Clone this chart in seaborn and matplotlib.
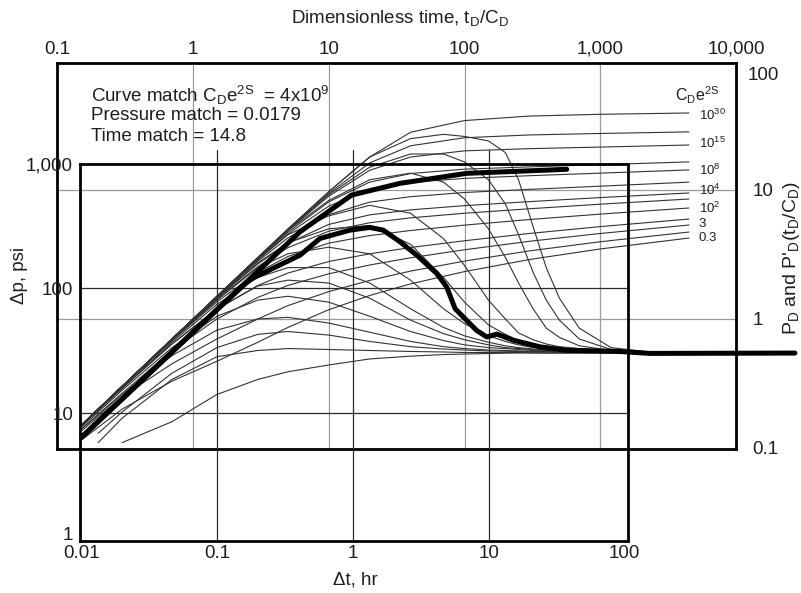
import numpy as np
import pandas as pd
import matplotlib
matplotlib.use("Agg")
import matplotlib.pyplot as plt
import matplotlib.ticker as mticker
import matplotlib.transforms as mtrans
import seaborn as sns

nan = np.nan
# ---------------- data ----------------
# C_D e^2S values of the type curves
cde2s = ["1e30", "1e20", "1e15", "1e10", "1e8", "1e6", "1e4", "1e3", "1e2", "10", "3", "1", "0.3"]

# dimensionless time (t_D/C_D) where the pressure curves were read
tau_p = [0.15, 0.3, 0.7, 1.5, 3, 5, 10, 20, 40, 100, 300, 1000, 4500]
# dimensionless pressure P_D
pd_1e30 = [0.15, 0.3, 0.7, 1.5, 2.99, 4.95, 9.7, 18.0, 28.0, 34.5, 37.4, 38.6, 39.5]
pd_1e20 = [0.15, 0.3, 0.7, 1.5, 2.98, 4.9, 9.4, 16.2, 22.0, 25.4, 26.7, 27.4, 28.2]
pd_1e15 = [0.15, 0.3, 0.7, 1.49, 2.96, 4.85, 8.95, 14.2, 18.0, 20.1, 20.9, 21.5, 22.3]
pd_1e10 = [0.15, 0.3, 0.7, 1.49, 2.92, 4.7, 8.1, 11.5, 13.4, 14.5, 15.1, 15.7, 16.5]
pd_1e8 = [0.15, 0.3, 0.7, 1.48, 2.89, 4.56, 7.5, 10.1, 11.45, 12.3, 12.9, 13.5, 14.3]
pd_1e6 = [0.15, 0.3, 0.7, 1.47, 2.8, 4.25, 6.43, 8.05, 8.87, 9.56, 10.1, 10.7, 11.5]
pd_1e4 = [0.15, 0.3, 0.69, 1.45, 2.67, 3.86, 5.41, 6.41, 7.01, 7.56, 8.12, 8.73, 9.48]
pd_1e3 = [0.15, 0.3, 0.69, 1.42, 2.55, 3.57, 4.79, 5.57, 6.08, 6.6, 7.15, 7.76, 8.51]
pd_1e2 = [0.15, 0.3, 0.68, 1.36, 2.3, 3.05, 3.87, 4.43, 4.85, 5.34, 5.9, 6.5, 7.25]
pd_10 = [0.147, 0.29, 0.64, 1.19, 1.82, 2.27, 2.79, 3.2, 3.58, 4.04, 4.6, 5.2, 5.95]
pd_3 = [0.14, 0.265, 0.57, 1.0, 1.47, 1.82, 2.24, 2.62, 2.98, 3.44, 4.0, 4.6, 5.35]
pd_1 = [0.135, 0.25, 0.45, 0.7, 1.0, 1.27, 1.63, 1.99, 2.35, 2.81, 3.37, 3.97, 4.72]
pd_03 = [0.115, 0.2, 0.33, 0.47, 0.66, 0.86, 1.18, 1.52, 1.87, 2.33, 2.89, 3.49, 4.24]

# dimensionless time where the derivative curves were read
tau_d = [0.15, 0.2, 0.3, 0.7, 1.5, 3, 5, 10, 20, 40, 70, 100, 150, 200, 250, 320, 400, 500, 700, 1200, 2500, 4500]
# pressure derivative P'_D (t_D/C_D)
dd_1e30 = [0.15, 0.2, 0.3, 0.7, 1.5, 3, 5, 9.7, 18, 25, 27, 26, 24, 19.5, 12, 5.2, 2.5, 1.45, 0.85, 0.6, 0.55, 0.545]
dd_1e20 = [0.15, 0.2, 0.3, 0.7, 1.5, 2.98, 4.9, 9.2, 15, 19, 19, 16.5, 12, 7.8, 4.5, 2.3, 1.4, 0.98, 0.7, 0.58, 0.55, 0.545]
dd_1e15 = [0.15, 0.2, 0.3, 0.7, 1.49, 2.95, 4.85, 8.3, 12, 13.5, 11.5, 8.5, 5.0, 3.0, 1.9, 1.2, 0.85, 0.72, 0.62, 0.57, 0.55, 0.545]
dd_1e10 = [0.15, 0.2, 0.3, 0.7, 1.48, 2.87, 4.5, 6.3, 7.6, 6.6, 4.2, 2.6, 1.4, 1.0, 0.78, 0.69, 0.64, 0.61, 0.59, 0.56, 0.55, 0.545]
dd_1e8 = [0.15, 0.2, 0.3, 0.69, 1.45, 2.72, 3.9, 5.0, 5.3, 3.8, 2.1, 1.35, 0.9, 0.76, 0.68, 0.64, 0.61, 0.59, 0.575, 0.56, 0.55, 0.545]
dd_1e6 = [0.15, 0.2, 0.3, 0.68, 1.4, 2.5, 3.2, 3.6, 3.2, 2.0, 1.2, 0.92, 0.74, 0.67, 0.63, 0.6, 0.59, 0.575, 0.565, 0.555, 0.55, 0.545]
dd_1e4 = [0.15, 0.2, 0.29, 0.66, 1.3, 2.1, 2.5, 2.5, 1.9, 1.2, 0.86, 0.74, 0.66, 0.62, 0.6, 0.585, 0.575, 0.567, 0.56, 0.55, 0.545, 0.545]
dd_1e3 = [0.15, 0.2, 0.29, 0.64, 1.2, 1.8, 2.0, 1.9, 1.45, 0.98, 0.77, 0.69, 0.63, 0.6, 0.59, 0.578, 0.57, 0.565, 0.56, 0.55, 0.545, 0.545]
dd_1e2 = [0.145, 0.19, 0.28, 0.6, 1.05, 1.4, 1.5, 1.35, 1.05, 0.8, 0.68, 0.63, 0.6, 0.59, 0.58, 0.57, 0.565, 0.56, 0.555, 0.55, 0.545, 0.545]
dd_10 = [0.14, 0.18, 0.26, 0.52, 0.82, 1.0, 1.03, 0.93, 0.79, 0.67, 0.61, 0.59, 0.575, 0.57, 0.565, 0.562, 0.56, 0.557, 0.555, 0.55, 0.545, 0.545]
dd_3 = [nan, 0.13, 0.19, 0.38, 0.6, 0.76, 0.8, 0.75, 0.67, 0.61, 0.585, 0.575, 0.565, 0.562, 0.56, 0.557, 0.555, 0.552, 0.55, 0.55, 0.545, 0.545]
dd_1 = [nan, 0.11, 0.17, 0.34, 0.51, 0.57, 0.59, 0.58, 0.57, 0.56, 0.555, 0.55, 0.55, 0.55, 0.55, 0.547, 0.545, 0.545, 0.545, 0.545, 0.545, 0.545]
dd_03 = [nan, nan, 0.11, 0.16, 0.26, 0.34, 0.39, 0.44, 0.49, 0.515, 0.53, 0.535, 0.54, 0.543, 0.545, 0.545, 0.545, 0.545, 0.545, 0.545, 0.545, 0.545]

# curve labels shown at the right end
label_texts = ["10$^{30}$", "10$^{15}$", "10$^{8}$", "10$^{4}$", "10$^{2}$", "3", "0.3"]
label_levels = [38.1, 23.1, 14.3, 9.95, 7.2, 5.45, 4.24]

# field data: pressure change and derivative (psi) vs elapsed time (hr)
dt_p = [0.01, 0.1, 0.407, 0.977, 2.22, 6.88, 37.6]
dp_p = [6.4, 68, 285, 562, 698, 840, 905]
dt_d = [0.01, 0.1, 0.174, 0.407, 0.571, 0.951, 1.33, 1.67, 2.22, 2.95, 4.14, 4.90,
        5.65, 6.50, 8.16, 9.67, 11.5, 15.2, 23.9, 37.6, 87.8, 155, 1807]
dp_d = [6.4, 68, 118, 185, 252, 294, 309, 294, 237, 185, 132, 103,
        69, 59, 46, 40.8, 43, 38.4, 34, 31.9, 31.3, 30.1, 30.3]

# axis ticks
top_ticks = [0.1, 1, 10, 100, 1000, 10000]
top_labels = ["0.1", "1", "10", "100", "1,000", "10,000"]
right_ticks = [0.1, 1, 10]
right_labels = ["0.1", "1", "10"]
bottom_ticks = [0.01, 0.1, 1, 10, 100]
bottom_labels = ["0.01", "0.1", "1", "10", "100"]
left_ticks = [1, 10, 100, 1000]
left_labels = ["1", "10", "100", "1,000"]

# ---------------- build tables ----------------
pd_lists = [pd_1e30, pd_1e20, pd_1e15, pd_1e10, pd_1e8, pd_1e6, pd_1e4, pd_1e3, pd_1e2, pd_10, pd_3, pd_1, pd_03]
dd_lists = [dd_1e30, dd_1e20, dd_1e15, dd_1e10, dd_1e8, dd_1e6, dd_1e4, dd_1e3, dd_1e2, dd_10, dd_3, dd_1, dd_03]
rows = []
for name, pvals, dvals in zip(cde2s, pd_lists, dd_lists):
    for t, p in zip(tau_p, pvals):
        rows.append({"tau": t, "val": p, "curve": "P_" + name})
    for t, d in zip(tau_d, dvals):
        rows.append({"tau": t, "val": d, "curve": "D_" + name})
type_df = pd.DataFrame(rows).dropna()
press_df = pd.DataFrame({"dt": dt_p, "dp": dp_p})
deriv_df = pd.DataFrame({"dt": dt_d, "dp": dp_d})

# ---------------- figure ----------------
sns.set_theme(style="white")
plt.rcParams["font.family"] = ["Liberation Sans", "DejaVu Sans"]
plt.rcParams["mathtext.fontset"] = "custom"
plt.rcParams["mathtext.rm"] = "Liberation Sans"
plt.rcParams["mathtext.it"] = "Liberation Sans"
plt.rcParams["mathtext.default"] = "regular"

W, H = 801, 593
fig = plt.figure(figsize=(W / 100, H / 100), dpi=100)
fig.patch.set_facecolor("white")


def px_axes(l, t, r, b, **kw):
    return fig.add_axes([l / W, 1 - b / H, (r - l) / W, (b - t) / H], **kw)


FS = 13.5
TXT = "#1e1e1e"
# ---- outer (type curve) axes ----
ax_o = px_axes(57.3, 63.3, 736.0, 449.3)
ax_o.set_xscale("log")
ax_o.set_yscale("log")
ax_o.set_xlim(0.1, 10000)
ax_o.set_ylim(0.0977, 95.9)
ax_o.set_facecolor("white")

for v in [1, 10, 100, 1000]:
    ax_o.axvline(v, color="#9a9a9a", lw=0.9, zorder=0)
for v in [1, 10]:
    ax_o.axhline(v, color="#9a9a9a", lw=0.9, zorder=0)

sns.lineplot(data=type_df, x="tau", y="val", units="curve", estimator=None,
             color="#333333", lw=0.8, ax=ax_o, legend=False, sort=False)
ax_o.set_xlabel("")
ax_o.set_ylabel("")

ax_o.xaxis.tick_top()
ax_o.yaxis.tick_right()
ax_o.set_xticks(top_ticks)
ax_o.set_xticklabels(top_labels)
ax_o.set_yticks(right_ticks)
ax_o.set_yticklabels(right_labels)
ax_o.xaxis.set_minor_locator(mticker.NullLocator())
ax_o.yaxis.set_minor_locator(mticker.NullLocator())
ax_o.tick_params(axis="x", which="both", length=0, pad=4, labelsize=FS, colors=TXT)
ax_o.tick_params(axis="y", which="both", length=0, pad=12, labelsize=FS, colors=TXT)
for lbl in ax_o.get_yticklabels():
    lbl.set_horizontalalignment("left")
ax_o.text(1 + 12 / 678.7, (449.3 - 75) / 386.0, "100", transform=ax_o.transAxes,
          ha="left", va="center", fontsize=FS, color=TXT)
for s in ax_o.spines.values():
    s.set_color("black")
    s.set_linewidth(2.0)

# curve labels
for txt, lev in zip(label_texts, label_levels):
    ax_o.text(5300, lev, txt, ha="left", va="center", fontsize=9.5, color=TXT)

# ---- inner (field data) axes ----
ax_i = px_axes(80.0, 163.9, 627.7, 541.0)
ax_i.set_xscale("log")
ax_i.set_yscale("log")
ax_i.set_xlim(0.00973, 105.8)
ax_i.set_ylim(0.939, 1000)
ax_i.patch.set_alpha(0)

for v in [0.1, 1, 10]:
    ax_i.plot([v, v], [0.939, 1293], color="#2a2a2a", lw=0.9, clip_on=False, zorder=1)
for v in [10, 100]:
    ax_i.axhline(v, color="#2a2a2a", lw=0.9, zorder=1)

sns.lineplot(data=press_df, x="dt", y="dp", estimator=None, sort=False, color="black",
             lw=3.6, ax=ax_i, clip_on=False, zorder=5)
sns.lineplot(data=deriv_df, x="dt", y="dp", estimator=None, sort=False, color="black",
             lw=3.6, ax=ax_i, clip_on=False, zorder=5)
ax_i.set_xlabel("")
ax_i.set_ylabel("")
ax_i.set_xticks(bottom_ticks)
ax_i.set_xticklabels(bottom_labels)
ax_i.set_yticks(left_ticks)
ax_i.set_yticklabels(left_labels)
ax_i.xaxis.set_minor_locator(mticker.NullLocator())
ax_i.yaxis.set_minor_locator(mticker.NullLocator())
ax_i.tick_params(axis="x", which="both", length=0, pad=3, labelsize=FS, colors=TXT)
ax_i.tick_params(axis="y", which="both", length=0, pad=5, labelsize=FS, colors=TXT)
ylabs = ax_i.get_yticklabels()
ylabs[0].set_transform(ylabs[0].get_transform() + mtrans.ScaledTranslation(0, 4 / 100, fig.dpi_scale_trans))
for s in ax_i.spines.values():
    s.set_color("black")
    s.set_linewidth(2.0)


def ftxt(x, y, s, **kw):
    fig.text(x / W, 1 - y / H, s, **kw)


ftxt(400, 18, "Dimensionless time, t$_{D}$/C$_{D}$", ha="center", va="center", fontsize=FS, color=TXT)
ftxt(91, 95, "Curve match C$_{D}$e$^{2S}$  = 4x10$^{9}$", ha="left", va="center", fontsize=FS, color=TXT)
ftxt(91, 116, "Pressure match = 0.0179", ha="left", va="center", fontsize=FS, color=TXT)
ftxt(91, 137, "Time match = 14.8", ha="left", va="center", fontsize=FS, color=TXT)
ftxt(697, 95, "C$_{D}$e$^{2S}$", ha="center", va="center", fontsize=11.5, color=TXT)
ftxt(355, 580, "Δt, hr", ha="center", va="center", fontsize=FS, color=TXT)
ftxt(20, 275, "Δp, psi", ha="center", va="center", rotation=90, fontsize=FS, color=TXT)
ftxt(791, 258, "P$_{D}$ and P'$_{D}$(t$_{D}$/C$_{D}$)", ha="center", va="center", rotation=90,
     fontsize=14, color=TXT)

fig.savefig("out.png", dpi=100, facecolor="white")
